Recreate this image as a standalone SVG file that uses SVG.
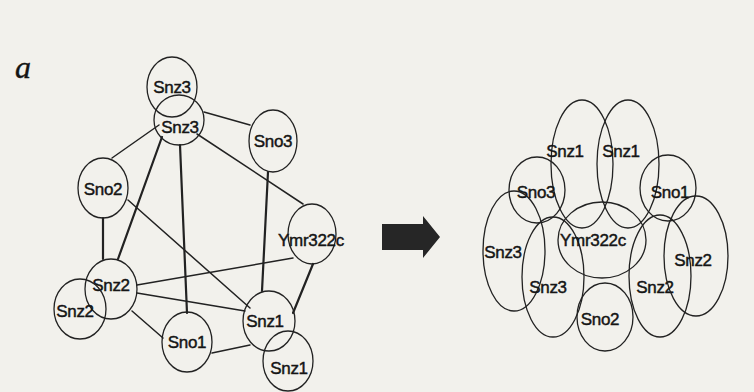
<svg xmlns="http://www.w3.org/2000/svg" width="754" height="392" viewBox="0 0 754 392">
  <style>
    .node ellipse { fill: none; stroke: #222; stroke-width: 1.3; }
    .node text { font-family: "Liberation Sans", Arial, sans-serif; font-size: 17px; fill: #151515; stroke: #151515; stroke-width: 0.45; text-anchor: middle; letter-spacing: -0.3px; }
    #edges line { stroke: #222; stroke-width: 1.5; stroke-linecap: round; }
    #edges line.heavy { stroke-width: 2.2; }
    .panel { font-family: "Liberation Serif", "Times New Roman", serif; font-style: italic; font-size: 32px; fill: #151515; stroke: #151515; stroke-width: 0.4; }
  </style>
  <rect width="754" height="392" fill="#f2f1ec"/>

  <text class="panel" x="15" y="78">a</text>

  <!-- interaction graph: connectors -->
  <g id="edges">
    <line x1="204" y1="112" x2="250" y2="125"/>
    <line x1="159" y1="125" x2="112" y2="158"/>
    <line class="heavy" x1="162" y1="137" x2="118" y2="259"/>
    <line class="heavy" x1="180" y1="145" x2="187" y2="313"/>
    <line x1="197" y1="134" x2="303" y2="204"/>
    <line class="heavy" x1="268" y1="172" x2="262" y2="291"/>
    <line class="heavy" x1="103" y1="218" x2="103" y2="259"/>
    <line x1="128" y1="200" x2="250" y2="308"/>
    <line x1="137" y1="285" x2="293" y2="258"/>
    <line x1="137" y1="293" x2="245" y2="311"/>
    <line x1="132" y1="311" x2="163" y2="338"/>
    <line x1="212" y1="353" x2="250" y2="345"/>
    <line class="heavy" x1="313" y1="264" x2="293" y2="313"/>
  </g>

  <!-- interaction graph: nodes -->
  <g id="l-snz3-a" class="node"><ellipse cx="172" cy="87" rx="25" ry="30"/><text x="172" y="93">Snz3</text></g>
  <g id="l-snz3-b" class="node"><ellipse cx="179" cy="120" rx="25" ry="25"/><text x="180" y="133">Snz3</text></g>
  <g id="l-sno3" class="node"><ellipse cx="273" cy="141" rx="24" ry="31"/><text x="273" y="147">Sno3</text></g>
  <g id="l-sno2" class="node"><ellipse cx="103" cy="188" rx="25" ry="30"/><text x="103" y="195">Sno2</text></g>
  <g id="l-ymr322c" class="node"><ellipse cx="312" cy="234" rx="24" ry="30"/><text x="311" y="246">Ymr322c</text></g>
  <g id="l-snz2-a" class="node"><ellipse cx="111" cy="289" rx="26" ry="30"/><text x="111" y="291">Snz2</text></g>
  <g id="l-snz2-b" class="node"><ellipse cx="80" cy="309" rx="26" ry="30"/><text x="75" y="317">Snz2</text></g>
  <g id="l-sno1" class="node"><ellipse cx="187" cy="342" rx="25" ry="30"/><text x="187" y="348">Sno1</text></g>
  <g id="l-snz1-a" class="node"><ellipse cx="269" cy="321" rx="26" ry="30"/><text x="265" y="327">Snz1</text></g>
  <g id="l-snz1-b" class="node"><ellipse cx="288" cy="361" rx="25" ry="30"/><text x="289" y="374">Snz1</text></g>

  <!-- block arrow between the two views -->
  <path d="M382,224 H423 V216 L440,237 L423,258 V250 H382 Z" fill="#262626"/>

  <!-- overlapping-set view -->
  <g id="r-snz1-a" class="node"><ellipse cx="582" cy="164" rx="31" ry="64"/><text x="565" y="157">Snz1</text></g>
  <g id="r-snz1-b" class="node"><ellipse cx="628" cy="164" rx="31" ry="64"/><text x="621" y="157">Snz1</text></g>
  <g id="r-sno3" class="node"><ellipse cx="537" cy="190" rx="28" ry="33"/><text x="536" y="198">Sno3</text></g>
  <g id="r-sno1" class="node"><ellipse cx="668" cy="188" rx="28" ry="33"/><text x="670" y="198">Sno1</text></g>
  <g id="r-snz3-a" class="node"><ellipse cx="514" cy="251" rx="31" ry="60"/><text x="503" y="258">Snz3</text></g>
  <g id="r-snz3-b" class="node"><ellipse cx="553" cy="277" rx="31" ry="60"/><text x="548" y="293">Snz3</text></g>
  <g id="r-ymr322c" class="node"><ellipse cx="602" cy="240" rx="44" ry="38"/><text x="593" y="246">Ymr322c</text></g>
  <g id="r-sno2" class="node"><ellipse cx="605" cy="317" rx="28" ry="34"/><text x="600" y="325">Sno2</text></g>
  <g id="r-snz2-a" class="node"><ellipse cx="660" cy="276" rx="31" ry="61"/><text x="655" y="293">Snz2</text></g>
  <g id="r-snz2-b" class="node"><ellipse cx="696" cy="256" rx="32" ry="60"/><text x="693" y="266">Snz2</text></g>
</svg>
